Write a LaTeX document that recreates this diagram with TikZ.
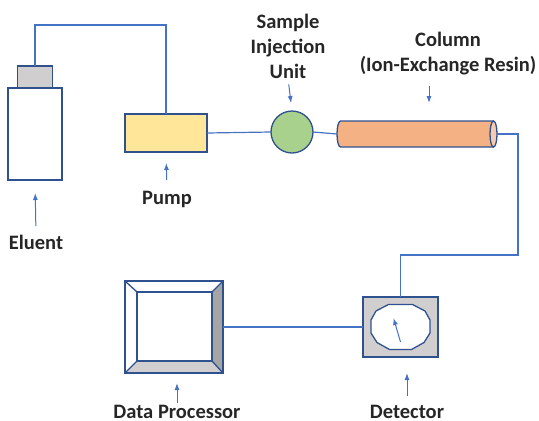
\documentclass[tikz,border=0pt]{standalone}
\usepackage{fontspec}
\setmainfont{Carlito}
\usetikzlibrary{arrows.meta,calc,positioning}
\definecolor{pipeblue}{RGB}{68,114,196}
\definecolor{edgeblue}{RGB}{47,82,143}
\definecolor{lightgrey}{RGB}{208,206,206}
\definecolor{darkgrey}{RGB}{165,165,165}
\definecolor{pumpyellow}{RGB}{255,230,153}
\definecolor{injgreen}{RGB}{169,209,142}
\definecolor{resin}{RGB}{244,177,131}
\definecolor{resinend}{RGB}{248,203,173}
\definecolor{ink}{RGB}{38,38,38}

\begin{document}
\begin{tikzpicture}[x=1pt,y=-1pt,>={Latex[length=7pt,width=5pt]},
  font=\fontsize{20.5}{25}\selectfont\bfseries,
  outline/.style={draw=edgeblue,line width=1.3pt},
  part/.style={outline,inner sep=0pt,outer sep=0pt},
  pipe/.style={draw=pipeblue,line width=1.2pt},
  ptr/.style={->,draw=pipeblue,line width=1pt},
  lbl/.style={text=ink,inner sep=0pt,align=center}]
  \useasboundingbox (0,0) rectangle (539,421);

  % eluent bottle, pump and injector
  \node[part,fill=white,minimum width=54pt,minimum height=92pt] (bottle) at (35,134) {};
  \node[part,fill=lightgrey,minimum width=35pt,minimum height=22pt,above=0pt of bottle] (cap) {};
  \node[part,fill=pumpyellow,minimum width=82pt,minimum height=38pt] (pump) at (166,133) {};
  \node[part,circle,fill=injgreen,minimum size=42pt] (inj) at (292,132) {};

  % column: body with rounded back end and open front ellipse
  \node[inner sep=0pt,outer sep=0pt,minimum width=160pt,minimum height=26pt] (col) at (417,134) {};
  \draw[outline,fill=resin] ([xshift=-3.5pt]col.north east) -- ([xshift=3.5pt]col.north west)
    arc[start angle=90,end angle=270,x radius=3.5pt,y radius=13pt]
    -- ([xshift=-3.5pt]col.south east);
  \draw[outline,fill=resinend] ([xshift=-3.5pt]col.east) ellipse[x radius=3.5pt,y radius=13pt];

  % detector with dial
  \node[part,fill=lightgrey,minimum width=75pt,minimum height=60pt] (det) at (400.5,327) {};
  \draw[outline,fill=white,shift={(det.center)}] (-12,-22.5) -- (12,-22.5) -- (24.5,-16)
    -- (29.5,-7) -- (29.5,6) -- (23.5,15.5) -- (11,22.5) -- (-11,22.5) -- (-23.5,15.5)
    -- (-29.5,6) -- (-29.5,-7) -- (-24.5,-16) -- cycle;
  \draw[ptr,shift={(det.center)}] (0,15) -- (-7,-9);

  % data processor, bevelled frame
  \node[inner sep=0pt,outer sep=0pt,minimum width=98pt,minimum height=92pt] (proc) at (174,327) {};
  \coordinate (pi1) at ($(proc.north west)+(12,11)$);
  \coordinate (pi2) at ($(proc.north east)+(-11,11)$);
  \coordinate (pi3) at ($(proc.south east)+(-11,-12)$);
  \coordinate (pi4) at ($(proc.south west)+(12,-12)$);
  \fill[darkgrey] (proc.north east) -- (proc.south east) -- (pi3) -- (pi2) -- cycle;
  \fill[lightgrey] (proc.south west) -- (proc.south east) -- (pi3) -- (pi4) -- cycle;
  \draw[outline] (proc.north west) rectangle (proc.south east);
  \draw[outline] (pi1) rectangle (pi3);
  \draw[outline] (proc.north west) -- (pi1) (proc.north east) -- (pi2)
    (proc.south east) -- (pi3) (proc.south west) -- (pi4);

  % tubing
  \draw[pipe] (cap.north) -- ++(0,-41) -| (pump.north);
  \draw[pipe] (pump.east) -- (inj.west);
  \draw[pipe] (inj.east) -- (col.west);
  \draw[pipe] (col.east) -- ++(21,0) -- ++(0,121) -| (det.north);
  \draw[pipe] (proc.east) -- (det.west);

  % labels
  \node[lbl] (bottlelbl) at (36,242.5) {Eluent};
  \node[lbl] (pumplbl) at (167,199.5) {Pump};
  \node[lbl] (injlbl) at (288,46) {Sample\\Injection\\Unit};
  \node[lbl] (collbl) at (448,54) {Column\\(Ion-Exchange Resin)};
  \node[lbl] (detlbl) at (407,412) {Detector};
  \node[lbl] (proclbl) at (177,412) {Data Processor};

  \draw[ptr,shorten <=9pt,shorten >=13pt] (bottlelbl.north) -- (bottle.south);
  \draw[ptr,shorten <=11pt,shorten >=11pt] (pumplbl.north) -- (pump.south);
  \draw[ptr,shorten <=6pt,shorten >=8pt] (injlbl.south) -- (inj.north);
  \draw[ptr,shorten <=10pt,shorten >=18pt] ([xshift=-19pt]collbl.south) -- ([xshift=12pt]col.north);
  \draw[ptr,shorten <=9pt,shorten >=16pt] (detlbl.north) -- (detlbl.north |- det.south);
  \draw[ptr,shorten <=2pt,shorten >=10pt] (proclbl.north) -- (proclbl.north |- proc.south);
\end{tikzpicture}
\end{document}
